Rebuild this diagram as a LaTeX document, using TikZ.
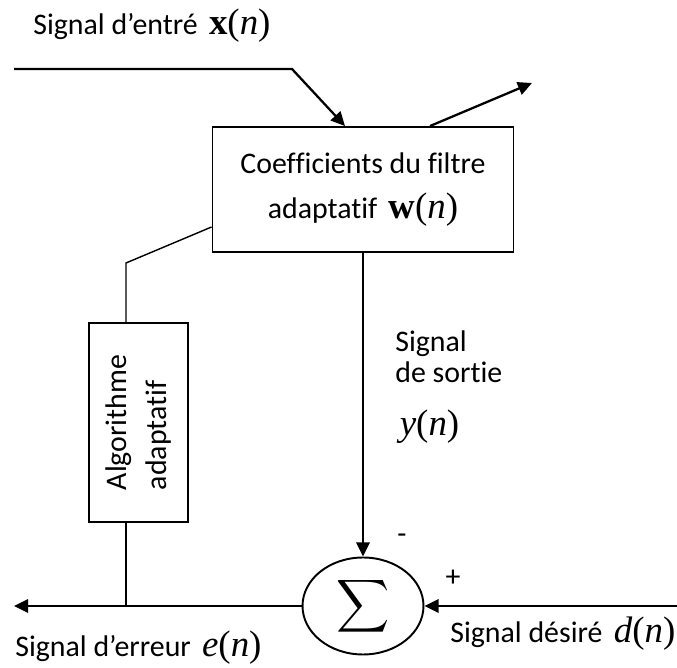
\documentclass[tikz,border=0pt]{standalone}
\usepackage{fontspec}
\setmainfont{Carlito}[RawFeature={-liga}]
\newfontfamily\tmsfont{Liberation Serif}
\usetikzlibrary{arrows.meta,shapes.geometric}
\newcommand{\argn}[1] {%
  \hspace{0.15em}{\tmsfont\fontsize{21}{21}\selectfont #1(\textit{n})}%
}

\begin{document}
\begin{tikzpicture}[x=0.02cm, y=-0.02cm, font=\fontsize{17}{20}\selectfont,
    tip/.style={-{Triangle[length=8pt,width=7.5pt]}},
    sigline/.style={line width=1.3pt},
    thinline/.style={line width=0.8pt},
    blockbox/.style={draw, line width=1.1pt, inner sep=0pt, align=center},
    lbl/.style={inner sep=0pt}]
  \useasboundingbox (0,0) rectangle (677,668);
  % blocks
  \node[blockbox, minimum width=6.02cm, minimum height=2.5cm,
        font=\fontsize{17}{26}\selectfont] (filt) at (363,189.5)
        {Coefficients du filtre\\adaptatif \argn{\textbf{w}}};
  \node[blockbox, rotate=90, align=left, minimum width=3.98cm, minimum height=1.98cm,
        font=\fontsize{17}{23}\selectfont] (algo) at (138.5,422.5)
        {Algorithme\\adaptatif};
  \node[ellipse, draw, line width=1.1pt, inner sep=0pt, minimum width=2.42cm,
        minimum height=1.94cm] (sum) at (363,606)
        {\scalebox{2.1}{$\displaystyle\sum$}};
  % free ends
  \coordinate (inA) at (14,69);
  \coordinate (inB) at (292,69);
  \coordinate (outE) at (532,83);
  \coordinate (kink) at (126,263);
  \coordinate (errE) at (14,606);
  \coordinate (desE) at (677,606);
  % connectors
  \draw[sigline, tip] (inA) -- (inB) -- ([xshift=-0.36cm]filt.north);
  \draw[sigline, tip] ([xshift=1.34cm]filt.north) -- (outE);
  \draw[sigline, tip] (filt.south) -- (sum.north);
  \draw[sigline, tip] (sum.west) -- (errE);
  \draw[sigline, tip] (desE) -- (sum.east);
  \draw[thinline] ([yshift=-0.75cm]filt.west) -- (kink) -- (kink |- algo.east);
  \draw[thinline] (kink |- algo.west) -- (kink |- sum.west);
  % labels
  \node[lbl, anchor=base west] (inL) at (33,35) {Signal d’entré \argn{\textbf{x}}};
  \node[lbl, anchor=north west, align=left, font=\fontsize{17}{18}\selectfont] (outL)
        at (395,330) {Signal\\de sortie\\[12pt]\argn{\textit{y}}};
  \node[lbl] (minus) at (402,539) {-};
  \node[lbl] (plus) at (453,578) {+};
  \node[lbl, anchor=base west] (errL) at (15,657) {Signal d’erreur \argn{\textit{e}}};
  \node[lbl, anchor=base west] (desL) at (450,643) {Signal désiré \argn{\textit{d}}};
\end{tikzpicture}
\end{document}
